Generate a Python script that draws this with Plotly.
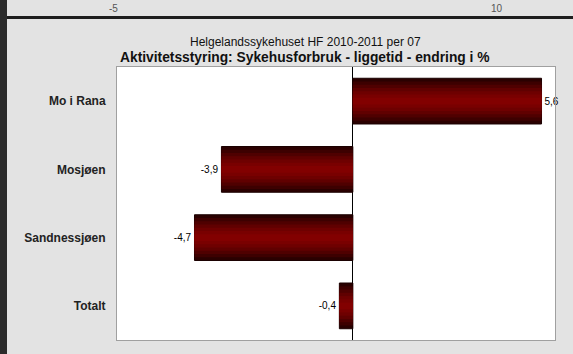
import plotly.graph_objects as go

categories = ["Mo i Rana", "Mosjøen", "Sandnessjøen", "Totalt"]
values = [5.6, -3.9, -4.7, -0.4]
labels = ["5,6", "-3,9", "-4,7", "-0,4"]

subtitle = "Helgelandssykehuset HF 2010-2011 per 07"
title = "Aktivitetsstyring: Sykehusforbruk - liggetid - endring i %"

FONT = "Liberation Sans, Arial, sans-serif"

fig = go.Figure()

# fake the vertical gradient by stacking narrower, brighter bars
shades = ["#2a0000", "#3d0000", "#4f0000", "#600000", "#6e0000", "#790000", "#820000"]
full_width = 0.67
for i, col in enumerate(shades):
    w = full_width * (1 - i / len(shades))
    first = i == 0
    fig.add_trace(go.Bar(
        y=categories, x=values, orientation="h", width=w,
        marker={"color": col, "line": {"color": "#1a0000", "width": 1 if first else 0}},
        text=labels if first else None,
        textposition="outside" if first else "none",
        textfont={"family": FONT, "size": 10, "color": "#000"},
        cliponaxis=False, showlegend=False, hoverinfo="skip",
    ))

fig.update_layout(
    width=573, height=354,
    barmode="overlay",
    paper_bgcolor="#e3e3e3", plot_bgcolor="#ffffff",
    margin={"l": 117, "r": 18, "t": 67, "b": 14},
    font={"family": FONT},
    xaxis={"range": [-7, 6], "showticklabels": False, "showgrid": False, "zeroline": True,
           "zerolinecolor": "#000", "zerolinewidth": 1,
           "showline": True, "mirror": True, "linecolor": "#a0a0a0", "linewidth": 1},
    yaxis={"autorange": "reversed", "showgrid": False, "zeroline": False,
           "showline": True, "mirror": True, "linecolor": "#a0a0a0", "linewidth": 1,
           "tickfont": {"family": FONT, "size": 12, "color": "#222", "weight": "bold"},
           "ticklabelstandoff": 8},
    annotations=[
        dict(text=subtitle, xref="paper", yref="paper", x=0.43, y=1.0, yshift=34,
             showarrow=False, font={"size": 12, "color": "#111"}),
        dict(text="<b>" + title + "</b>", xref="paper", yref="paper", x=0.43, y=1.0, yshift=19,
             showarrow=False, font={"size": 13.8, "color": "#111"}),
        # bits of the neighbouring chart above, cut off by the window
        dict(text="-5", xref="paper", yref="paper", x=(107 - 117) / 438, y=1.0, yshift=66,
             showarrow=False, font={"size": 10, "color": "#555"}),
        dict(text="10", xref="paper", yref="paper", x=(505 - 117) / 438, y=1.0, yshift=66,
             showarrow=False, font={"size": 10, "color": "#555"}),
    ],
    shapes=[
        dict(type="rect", xref="paper", yref="paper", x0=-117 / 438, x1=-110 / 438, y0=-14 / 273, y1=354 / 273,
             fillcolor="#2b2b2b", line={"width": 0}),
        dict(type="rect", xref="paper", yref="paper", x0=-110 / 438, x1=1.1, y0=(273 + 67 - 16) / 273,
             y1=(273 + 67 - 19) / 273, fillcolor="#1e1e1e", line={"width": 0}),
    ],
)

fig.write_html("out.html", config={"displayModeBar": False},
               post_script="document.body.style.margin='0';")
